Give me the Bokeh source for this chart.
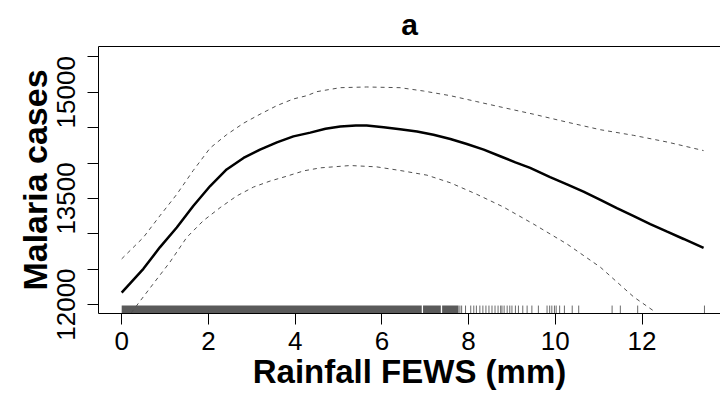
from bokeh.plotting import figure
from bokeh.models import LinearAxis, FixedTicker, Range1d
from bokeh.embed import file_html
from bokeh.resources import INLINE

# fitted smooth (solid) curve
fit_x = [0.0, 0.50, 0.88, 1.27, 1.65, 2.04, 2.42, 2.81, 3.19, 3.58, 3.96, 4.35, 4.70, 5.04,
         5.40, 5.65, 6.04, 6.42, 6.81, 7.19, 7.58, 7.96, 8.35, 8.73, 9.08, 9.42, 9.88, 10.27,
         10.65, 11.04, 11.42, 11.81, 12.19, 12.58, 12.96, 13.42]
fit_y = [12168, 12505, 12809, 13089, 13394, 13675, 13909, 14072, 14190, 14293, 14377, 14430, 14485, 14515,
         14530, 14531, 14507, 14479, 14447, 14401, 14339, 14269, 14190, 14096, 14010, 13932, 13801, 13700,
         13595, 13478, 13362, 13250, 13137, 13030, 12927, 12800]

# upper confidence band (dashed)
up_x = [0.0, 0.50, 0.88, 1.27, 1.65, 2.04, 2.42, 2.81, 3.19, 3.58, 3.96, 4.27, 4.50, 5.04, 5.65,
        6.42, 6.96, 7.58, 8.19, 8.80, 9.50, 10.27, 11.04, 11.81, 12.58, 13.42]
up_y = [12646, 12949, 13254, 13558, 13895, 14213, 14401, 14563, 14690, 14812, 14906, 14952, 15009, 15065, 15075,
        15065, 15018, 14952, 14868, 14784, 14690, 14578, 14471, 14391, 14297, 14176]

# lower confidence band (dashed)
lo_x = [0.0, 0.38, 0.73, 1.11, 1.50, 1.88, 2.27, 2.65, 3.04, 3.42, 3.81, 4.20, 4.58, 5.27, 5.88,
        6.42, 7.04, 7.58, 8.19, 8.80, 9.50, 10.27, 11.04, 11.81, 12.27]
lo_y = [11700, 12014, 12295, 12598, 12949, 13184, 13370, 13534, 13661, 13745, 13815, 13890, 13932, 13965, 13946,
        13895, 13829, 13721, 13558, 13380, 13137, 12856, 12528, 12107, 11910]

# rug: dense stretches of observations and isolated observations
rug_band_start = [0.0, 6.95, 7.39]
rug_band_end = [6.92, 7.36, 7.77]
rug_x = [7.80, 7.84, 7.93, 8.05, 8.12, 8.18, 8.26, 8.33, 8.40, 8.47, 8.54, 8.61, 8.68, 8.74,
         8.77, 8.82, 8.89, 8.95, 9.00, 9.08, 9.15, 9.25, 9.35, 9.46, 9.61, 9.81, 9.87, 9.92,
         9.98, 10.02, 10.10, 10.21, 10.39, 10.54, 11.31, 11.50, 11.90, 13.44]

x_ticks = [0, 2, 4, 6, 8, 10, 12]
y_ticks = [12000, 12500, 13000, 13500, 14000, 14500, 15000, 15500]
y_tick_labels = {12000: "12000", 13500: "13500", 15000: "15000"}

FONT = "Liberation Sans"
Y0, Y1 = 11874, 15647

p = figure(width=720, height=395,
           x_range=Range1d(-0.535, 13.81), y_range=Range1d(Y0, Y1),
           output_backend="svg", toolbar_location=None,
           x_axis_location=None, y_axis_location=None,
           min_border_left=98, min_border_right=0, min_border_top=44, min_border_bottom=82)
p.grid.visible = False
p.outline_line_color = None
p.background_fill_color = "white"
p.border_fill_color = "white"

p.title.text = "a"
p.title.align = "center"
p.title.text_font = FONT
p.title.text_font_size = "30px"
p.title.text_font_style = "bold"
p.title.text_color = "black"
p.title.standoff = 11

# bottom axis
xa = LinearAxis(ticker=FixedTicker(ticks=x_ticks), axis_label="Rainfall FEWS (mm)")
xa.major_tick_out = 11
xa.major_tick_in = 0
xa.minor_tick_out = 0
xa.minor_tick_in = 0
xa.major_label_standoff = 7
xa.major_label_text_font = FONT
xa.major_label_text_font_size = "26px"
xa.major_label_text_color = "black"
xa.axis_label_text_font = FONT
xa.axis_label_text_font_size = "33px"
xa.axis_label_text_font_style = "bold"
xa.axis_label_text_color = "black"
xa.axis_label_standoff = 0
xa.axis_line_color = "black"
xa.major_tick_line_color = "black"
p.add_layout(xa, "below")

# left axis
overrides = {t: y_tick_labels.get(t, "") for t in y_ticks}
ya = LinearAxis(ticker=FixedTicker(ticks=y_ticks), axis_label="Malaria cases")
ya.major_label_overrides = overrides
ya.major_tick_out = 11
ya.major_tick_in = 0
ya.minor_tick_out = 0
ya.minor_tick_in = 0
ya.major_label_orientation = "vertical"
ya.major_label_standoff = 12
ya.major_label_text_font = FONT
ya.major_label_text_font_size = "26px"
ya.major_label_text_color = "black"
ya.axis_label_text_font = FONT
ya.axis_label_text_font_size = "34px"
ya.axis_label_text_font_style = "bold"
ya.axis_label_text_color = "black"
ya.axis_label_standoff = 1
ya.axis_line_color = "black"
ya.major_tick_line_color = "black"
p.add_layout(ya, "left")

# top border of the box
ta = LinearAxis(ticker=FixedTicker(ticks=[]))
ta.major_tick_out = 0
ta.major_tick_in = 0
ta.minor_tick_out = 0
ta.minor_tick_in = 0
ta.major_label_text_font_size = "0px"
ta.axis_line_color = "black"
p.add_layout(ta, "above")

# rug
rug_h = (Y1 - Y0) * 8.0 / 269.0
p.quad(left=rug_band_start, right=rug_band_end, bottom=Y0, top=Y0 + rug_h,
       fill_color="#5a5a5a", line_color=None)
p.segment(x0=rug_x, y0=Y0, x1=rug_x, y1=Y0 + rug_h, line_color="#6a6a6a", line_width=1)

# curves
p.line(up_x, up_y, line_color="#505050", line_width=1, line_dash="4 4")
p.line(lo_x, lo_y, line_color="#505050", line_width=1, line_dash="4 4")
p.line(fit_x, fit_y, line_color="black", line_width=2.5)

open("out.html", "w").write(file_html(p, INLINE))
